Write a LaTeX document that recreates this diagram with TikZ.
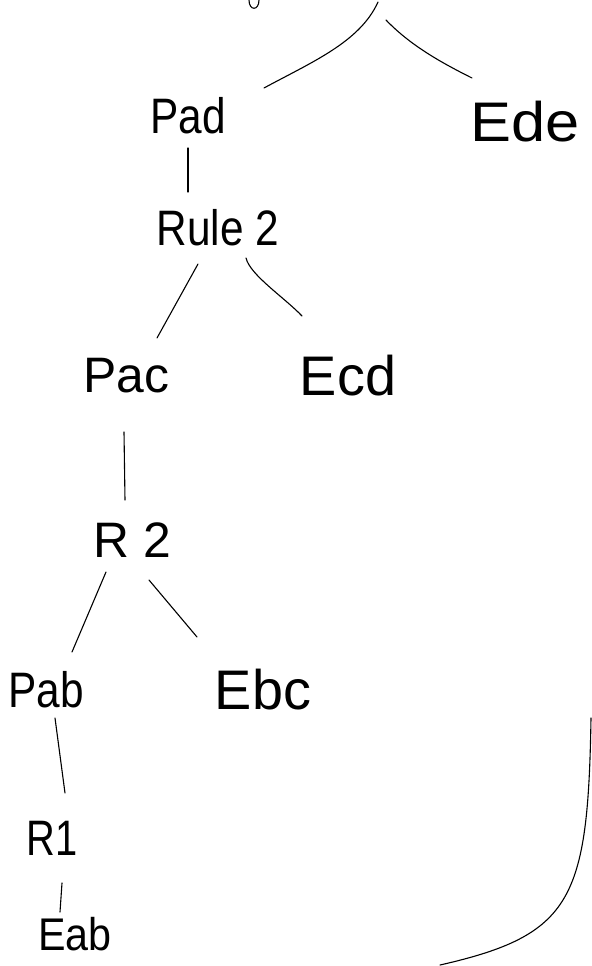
\documentclass[tikz,border=0pt]{standalone}
\usepackage{fontspec}
\setmainfont{Liberation Sans}
\begin{document}
\begin{tikzpicture}[x=1bp,y=-1bp,
  lbl/.style={inner sep=0pt,anchor=center,font=\fontsize{50}{50}\selectfont},
  big/.style={font=\fontsize{56}{56}\selectfont},
  edge/.style={line width=1.1bp,line cap=round}]
\useasboundingbox (0,0) rectangle (592,966);
% nodes
\node[lbl] (pad) at (188,116) {\scalebox{0.85}[1]{Pad}};
\node[lbl,big] (ede) at (525,122) {\scalebox{1.1}[1]{Ede}};
\node[lbl] (rule) at (218,228) {\scalebox{0.85}[1]{Rule 2}};
\node[lbl] (pac) at (126,376) {Pac};
\node[lbl,big] (ecd) at (348,376) {Ecd};
\node[lbl] (r2) at (132,540) {R 2};
\node[lbl] (pab) at (46,690) {\scalebox{0.85}[1]{Pab}};
\node[lbl,big] (ebc) at (263,690) {Ebc};
\node[lbl] (r1) at (52,838) {\scalebox{0.8}[1]{R1}};
\node[lbl,font=\fontsize{46}{46}\selectfont] (eab) at (75,934) {\scalebox{0.9}[1]{Eab}};
% cut-off glyph at top
\coordinate (g1) at (249,0);
\coordinate (g2) at (259,0);
\draw[edge] (g1) .. controls (249,11) and (259,11) .. (g2);
% connectors
\coordinate (t1) at (378,2);
\coordinate (t2) at (386,20);
\coordinate (pe) at (264,88);
\coordinate (ee) at (472,78);
\draw[edge] (t1) .. controls (360,42) and (312,62) .. (pe);
\draw[edge] (t2) .. controls (410,45) and (440,62) .. (ee);
\draw[edge] (188,148) -- (188,192);
\draw[edge] (198,264) -- (157,338);
\draw[edge] (246,258) .. controls (250,275) and (285,298) .. (302,316);
\draw[edge] (124,432) -- (125,500);
\draw[edge] (106,572) -- (72,652);
\draw[edge] (149,580) -- (197,637);
\draw[edge] (55,718) -- (65,793);
\draw[edge] (62,883) -- (60,912);
\coordinate (c1) at (591,718);
\coordinate (c2) at (440,965);
\draw[edge] (c1) .. controls (588,900) and (572,935) .. (c2);
\end{tikzpicture}
\end{document}
